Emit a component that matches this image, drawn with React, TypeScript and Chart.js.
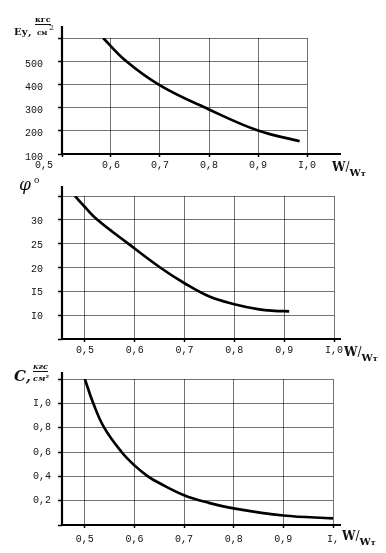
import React, { useEffect, useRef } from 'react';
import { Chart, registerables } from 'chart.js';

Chart.register(...registerables);

// ---- Chart 1: Ey (kgf/cm2) vs W/Wт ----
const eyX = [0.584, 0.63, 0.7, 0.8, 0.9, 0.985];
const eyY = [600, 502, 396, 292, 201, 155];
const eyXTicks = [0.5, 0.6, 0.7, 0.8, 0.9, 1.0];
const eyXTickLabels = ['0,5      ', '0,6', '0,7', '0,8', '0,9', 'I,0'];
const eyYTicks = [100, 200, 300, 400, 500, 600];
const eyYTickLabels = ['100', '200', '300', '400', '500', ''];

// ---- Chart 2: phi (deg) vs W/Wт ----
const phiX = [0.48, 0.5, 0.525, 0.587, 0.651, 0.7, 0.75, 0.8, 0.85, 0.88, 0.91];
const phiY = [35, 32.7, 30, 25, 20, 16.7, 13.9, 12.3, 11.2, 10.9, 10.8];
const phiXTicks = [0.5, 0.6, 0.7, 0.8, 0.9, 1.0];
const phiXTickLabels = ['0,5', '0,6', '0,7', '0,8', '0,9', 'I,0'];
const phiYTicks = [5, 10, 15, 20, 25, 30, 35];
const phiYTickLabels = ['', 'I0', 'I5', '20', '25', '30', ''];

// ---- Chart 3: C (kgf/cm2) vs W/Wт ----
const cX = [0.5, 0.517, 0.539, 0.574, 0.6, 0.627, 0.65, 0.7, 0.75, 0.8, 0.9, 1.0];
const cY = [1.2, 1.0, 0.8, 0.6, 0.49, 0.4, 0.345, 0.245, 0.182, 0.136, 0.078, 0.055];
const cXTicks = [0.5, 0.6, 0.7, 0.8, 0.9, 1.0];
const cXTickLabels = ['0,5', '0,6', '0,7', '0,8', '0,9', 'I,'];
const cYTicks = [0, 0.2, 0.4, 0.6, 0.8, 1.0, 1.2];
const cYTickLabels = ['', '0,2', '0,4', '0,6', '0,8', 'I,0', ''];

const TICK_FONT = { family: '"Liberation Mono", monospace', size: 10 };
const GRID = 'rgba(0,0,0,0.55)';

type PanelProps = {
  top: number;
  height: number;
  xs: number[];
  ys: number[];
  xMin: number;
  xMax: number;
  yMin: number;
  yMax: number;
  xTicks: number[];
  xTickLabels: string[];
  yTicks: number[];
  yTickLabels: string[];
  padTop: number;
  padRight: number;
  xAxisH: number;
  yLabelPad: number;
  yLabelOffset: number;
  xLabelPad: number;
  axisTopExt: number;
  axisRightExt: number;
};

function Panel(p: PanelProps) {
  const ref = useRef<HTMLCanvasElement | null>(null);
  useEffect(() => {
    if (!ref.current) return;
    const axisPlugin = {
      id: 'axisLines',
      afterDraw(chart: any) {
        const { ctx, chartArea } = chart;
        const { left, right, top, bottom } = chartArea;
        ctx.save();
        ctx.strokeStyle = '#000';
        ctx.lineWidth = 2.2;
        ctx.beginPath();
        ctx.moveTo(left, top - p.axisTopExt);
        ctx.lineTo(left, bottom);
        ctx.lineTo(right + p.axisRightExt, bottom);
        ctx.stroke();
        ctx.restore();
      },
    };
    const chart = new Chart(ref.current, {
      type: 'line',
      data: {
        datasets: [
          {
            data: p.xs.map((x, i) => ({ x, y: p.ys[i] })),
            borderColor: '#000',
            borderWidth: 2.7,
            pointRadius: 0,
            fill: false,
            tension: 0.4,
          },
        ],
      },
      options: {
        animation: false,
        responsive: false,
        events: [],
        layout: { padding: { top: p.padTop, right: p.padRight, left: 0, bottom: 0 } },
        plugins: { legend: { display: false }, tooltip: { enabled: false } },
        scales: {
          x: {
            type: 'linear',
            min: p.xMin,
            max: p.xMax,
            afterBuildTicks: (axis: any) => {
              axis.ticks = p.xTicks.map((v) => ({ value: v }));
            },
            afterFit: (scale: any) => {
              scale.height = p.xAxisH;
            },
            border: { display: false },
            grid: { color: GRID, lineWidth: 1, drawTicks: true, tickLength: 3, tickColor: '#000', tickWidth: 1.5 },
            ticks: {
              font: TICK_FONT,
              color: '#111',
              padding: p.xLabelPad,
              maxRotation: 0,
              autoSkip: false,
              callback: (v: any) => {
                const i = p.xTicks.findIndex((t) => Math.abs(t - Number(v)) < 1e-6);
                return i >= 0 ? p.xTickLabels[i] : '';
              },
            },
          },
          y: {
            type: 'linear',
            min: p.yMin,
            max: p.yMax,
            afterBuildTicks: (axis: any) => {
              axis.ticks = p.yTicks.map((v) => ({ value: v }));
            },
            afterFit: (scale: any) => {
              scale.width = 62;
            },
            border: { display: false },
            grid: { color: GRID, lineWidth: 1, drawTicks: true, tickLength: 4, tickColor: '#000', tickWidth: 1.5 },
            ticks: {
              font: TICK_FONT,
              color: '#111',
              padding: p.yLabelPad,
              labelOffset: p.yLabelOffset,
              autoSkip: false,
              callback: (v: any) => {
                const i = p.yTicks.findIndex((t) => Math.abs(t - Number(v)) < 1e-6);
                return i >= 0 ? p.yTickLabels[i] : '';
              },
            },
          },
        },
      } as any,
      plugins: [axisPlugin],
    });
    return () => chart.destroy();
  }, []);
  return (
    <canvas
      ref={ref}
      width={386}
      height={p.height}
      style={{ position: 'absolute', left: 0, top: p.top, width: 386, height: p.height, display: 'block' }}
    />
  );
}

const serif = '"DejaVu Serif", "Liberation Serif", serif';

function XTitle({ left, top }: { left: number; top: number }) {
  return (
    <div
      style={{
        position: 'absolute',
        left,
        top,
        fontFamily: serif,
        fontWeight: 'bold',
        fontSize: 12,
        lineHeight: '12px',
        whiteSpace: 'nowrap',
        color: '#111',
      }}
    >
      W<span style={{ fontWeight: 'normal' }}>/</span>
      <span style={{ fontSize: 10, position: 'relative', top: 5 }}>
        W<span style={{ fontSize: 8 }}>т</span>
      </span>
    </div>
  );
}

export default function App() {
  const abs = (left: number, top: number, extra: React.CSSProperties = {}): React.CSSProperties => ({
    position: 'absolute',
    left,
    top,
    whiteSpace: 'nowrap',
    color: '#111',
    fontFamily: serif,
    lineHeight: 1,
    ...extra,
  });
  return (
    <div style={{ position: 'absolute', left: 0, top: 0, width: 386, height: 553, background: '#fff', overflow: 'hidden' }}>
      <Panel
        top={0}
        height={175}
        xs={eyX}
        ys={eyY}
        xMin={0.5}
        xMax={1.0}
        yMin={100}
        yMax={600}
        xTicks={eyXTicks}
        xTickLabels={eyXTickLabels}
        yTicks={eyYTicks}
        yTickLabels={eyYTickLabels}
        padTop={38}
        padRight={79}
        xAxisH={17}
        yLabelPad={15}
        yLabelOffset={3}
        xLabelPad={2}
        axisTopExt={12}
        axisRightExt={34}
      />
      <Panel
        top={175}
        height={185}
        xs={phiX}
        ys={phiY}
        xMin={0.454}
        xMax={1.0}
        yMin={5}
        yMax={35}
        xTicks={phiXTicks}
        xTickLabels={phiXTickLabels}
        yTicks={phiYTicks}
        yTickLabels={phiYTickLabels}
        padTop={20}
        padRight={52}
        xAxisH={19}
        yLabelPad={15}
        yLabelOffset={1.5}
        xLabelPad={2}
        axisTopExt={10}
        axisRightExt={7}
      />
      <Panel
        top={360}
        height={193}
        xs={cX}
        ys={cY}
        xMin={0.454}
        xMax={1.0}
        yMin={0}
        yMax={1.2}
        xTicks={cXTicks}
        xTickLabels={cXTickLabels}
        yTicks={cYTicks}
        yTickLabels={cYTickLabels}
        padTop={19}
        padRight={53}
        xAxisH={28}
        yLabelPad={7}
        yLabelOffset={0}
        xLabelPad={5}
        axisTopExt={7}
        axisRightExt={8}
      />

      {/* Chart 1 y title: Ey, кгс/см² */}
      <div style={abs(14, 27, { fontSize: 10, fontWeight: 'bold' })}>Eу,</div>
      <div style={abs(35, 15, { fontSize: 8, fontWeight: 'bold', borderBottom: '1px solid #111', paddingBottom: 1 })}>кгс</div>
      <div style={abs(37, 29, { fontSize: 7, fontWeight: 'bold' })}>см</div>
      <div style={abs(49, 24, { fontSize: 8 })}>2</div>
      <XTitle left={332} top={161} />

      {/* Chart 2 y title: φ° */}
      <div style={abs(19, 176, { fontSize: 17, fontStyle: 'italic' })}>φ</div>
      <div style={abs(34, 176, { fontSize: 9 })}>o</div>
      <XTitle left={344} top={346} />

      {/* Chart 3 y title: C, кгс/см² */}
      <div style={abs(14, 369, { fontSize: 15, fontStyle: 'italic', fontWeight: 'bold' })}>C,</div>
      <div style={abs(33, 362, { fontSize: 8, fontStyle: 'italic', fontWeight: 'bold', borderBottom: '1px solid #111', paddingBottom: 1 })}>кгс</div>
      <div style={abs(33, 374, { fontSize: 8, fontStyle: 'italic', fontWeight: 'bold' })}>см²</div>
      <XTitle left={342} top={530} />
    </div>
  );
}
